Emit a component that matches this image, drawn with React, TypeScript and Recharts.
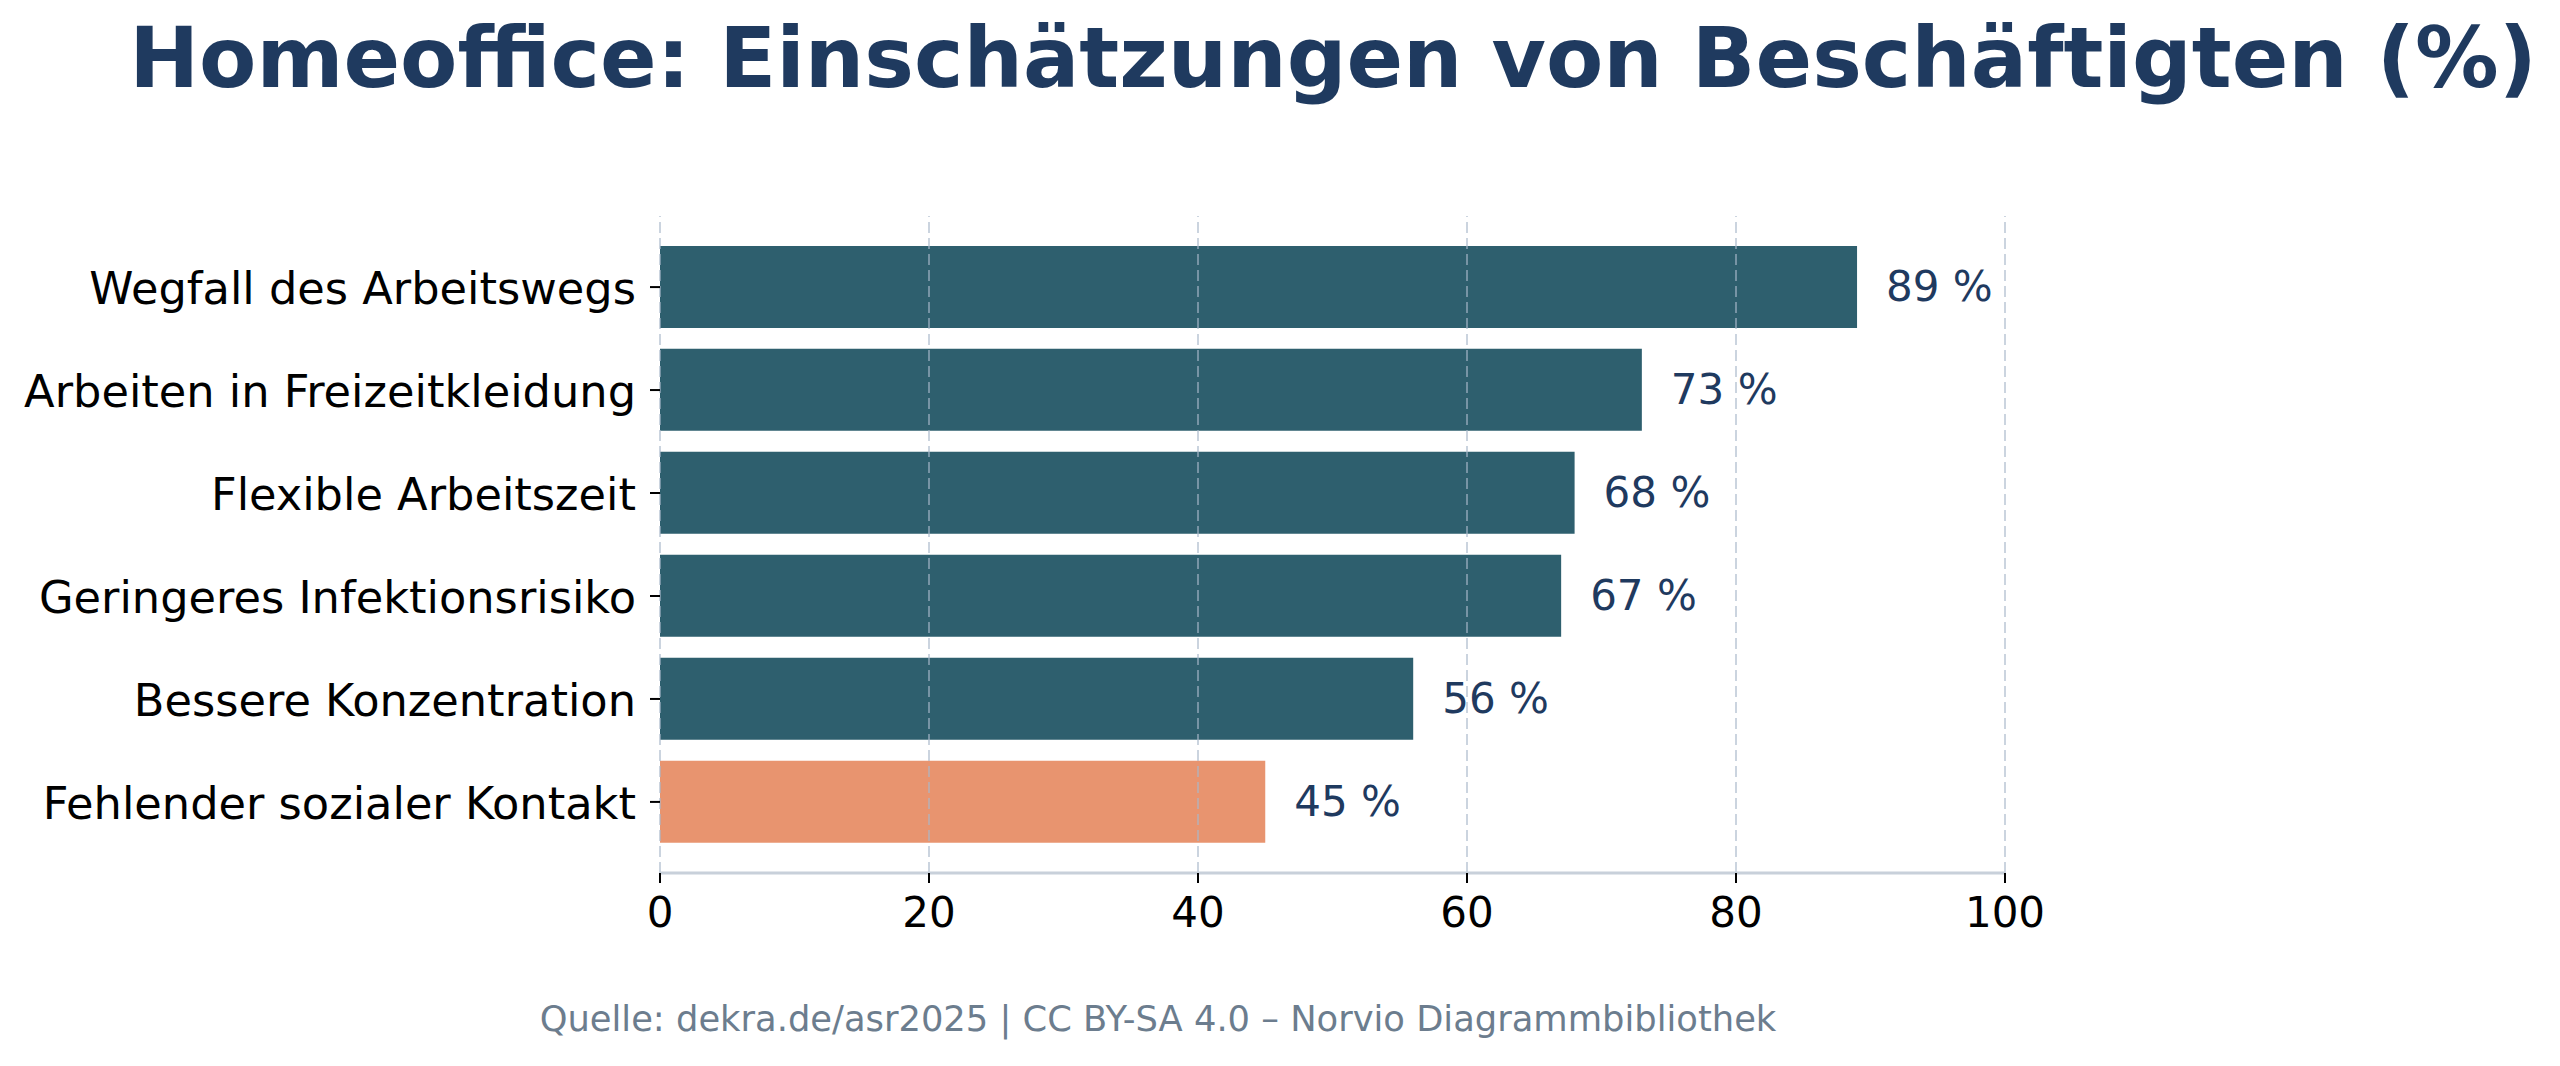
import { BarChart, Bar, XAxis, YAxis, Cell, LabelList, ReferenceLine } from 'recharts';

const categories = [
  'Wegfall des Arbeitswegs',
  'Arbeiten in Freizeitkleidung',
  'Flexible Arbeitszeit',
  'Geringeres Infektionsrisiko',
  'Bessere Konzentration',
  'Fehlender sozialer Kontakt',
];
const values = [89, 73, 68, 67, 56, 45];
const negative = [false, false, false, false, false, true];
const xTicks = [0, 20, 40, 60, 80, 100];

const TITLE = 'Homeoffice: Einschätzungen von Beschäftigten (%)';
const SOURCE = 'Quelle: dekra.de/asr2025 | CC BY-SA 4.0 – Norvio Diagrammbibliothek';

const FONT = '"DejaVu Sans", Verdana, sans-serif';
const NAVY = '#1f3a5f';
const TEAL = '#2e5f6e';
const ORANGE = '#e8946f';

const data = categories.map((name, i) => ({ name, value: values[i], neg: negative[i] }));

function YTick({ x, y, payload }: any) {
  return (
    <text x={x} y={y} dy={17} textAnchor="end" fontFamily={FONT} fontSize={44.7} fill="#000">
      {payload.value}
    </text>
  );
}

function XTick({ x, y, payload }: any) {
  return (
    <text x={x} y={y} dy={30} textAnchor="middle" fontFamily={FONT} fontSize={42} fill="#000">
      {payload.value}
    </text>
  );
}

function ValueLabel({ x, y, width, height, value }: any) {
  return (
    <text
      x={x + width + 29}
      y={y + height / 2 + 14}
      fontFamily={FONT}
      fontSize={42}
      fill={NAVY}
    >
      {`${value} %`}
    </text>
  );
}

export default function App() {
  return (
    <div style={{ position: 'absolute', left: 0, top: 0, width: 2560, height: 1066, background: '#fff' }}>
      <BarChart
        width={2560}
        height={1066}
        data={data}
        layout="vertical"
        margin={{ top: 216, right: 555, bottom: 133, left: 20 }}
        barCategoryGap="10%"
      >
        <XAxis
          type="number"
          domain={[0, 100]}
          ticks={xTicks}
          height={60}
          axisLine={{ stroke: '#c8d0da', strokeWidth: 3 }}
          tickLine={{ stroke: '#000', strokeWidth: 2 }}
          tickSize={10}
          tickMargin={14}
          tick={<XTick />}
          interval={0}
        />
        <YAxis
          type="category"
          dataKey="name"
          width={640}
          padding={{ top: 19.6, bottom: 19.6 }}
          axisLine={false}
          tickLine={{ stroke: '#000', strokeWidth: 2 }}
          tickSize={10}
          tickMargin={14}
          tick={<YTick />}
          interval={0}
        />
        <Bar dataKey="value" isAnimationActive={false}>
          {data.map((d) => (
            <Cell key={d.name} fill={d.neg ? ORANGE : TEAL} />
          ))}
          <LabelList dataKey="value" content={<ValueLabel />} />
        </Bar>
        {xTicks.map((t) => (
          <ReferenceLine
            key={t}
            x={t}
            stroke="#a9b8c9"
            strokeOpacity={0.6}
            strokeWidth={2}
            strokeDasharray="11 5"
          />
        ))}
      </BarChart>
      <svg
        width={2560}
        height={1066}
        style={{ position: 'absolute', left: 0, top: 0, pointerEvents: 'none' }}
      >
        <text x={1333} y={87} textAnchor="middle" fontFamily={FONT} fontWeight="bold" fontSize={83.5} fill={NAVY}>
          {TITLE}
        </text>
        <text x={1158} y={1031} textAnchor="middle" fontFamily={FONT} fontSize={35.3} fill="#6c7d8e">
          {SOURCE}
        </text>
      </svg>
    </div>
  );
}
